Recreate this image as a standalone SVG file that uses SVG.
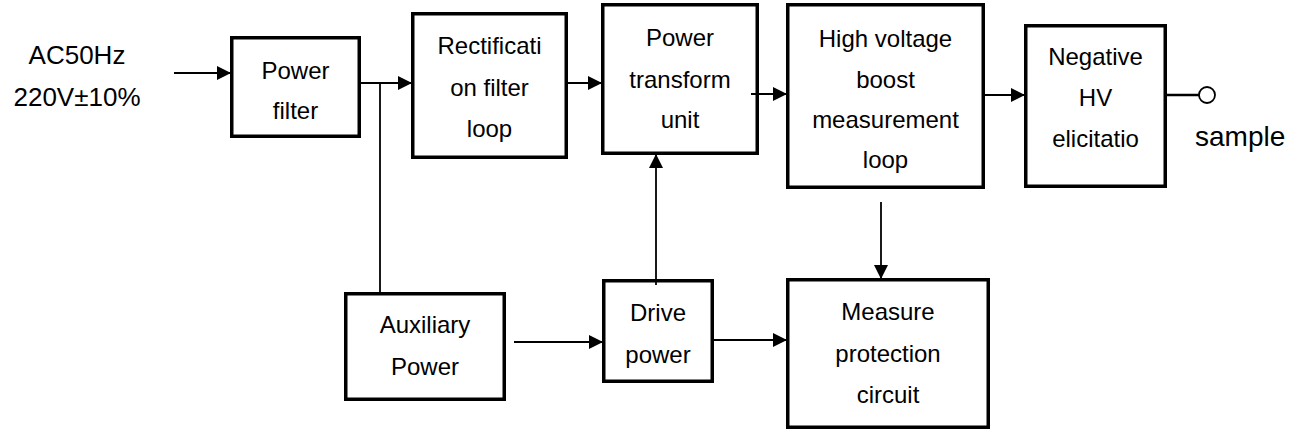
<svg xmlns="http://www.w3.org/2000/svg" width="1301" height="434" viewBox="0 0 1301 434">
  <style>
    .box { fill: #fff; stroke: #000; stroke-width: 3.5; }
    .t { font-family: "Liberation Sans", Arial, sans-serif; font-size: 24px; fill: #000; text-anchor: middle; }
    .lbl { font-family: "Liberation Sans", Arial, sans-serif; font-size: 26px; fill: #000; }
    .wire { fill: none; stroke: #000; stroke-width: 1.8; }
  </style>
  <defs>
    <marker id="arrow" markerUnits="userSpaceOnUse" markerWidth="14" markerHeight="14" refX="13" refY="7" orient="auto">
      <path d="M0,0 L14,7 L0,14 Z" fill="#000"/>
    </marker>
  </defs>

  <!-- input label -->
  <g id="input-label">
    <text class="lbl" x="77" y="64" text-anchor="middle">AC50Hz</text>
    <text class="lbl" x="77" y="106" text-anchor="middle">220V±10%</text>
  </g>

  <g id="power-filter">
    <rect class="box" x="231.75" y="37.75" width="127.5" height="98.5"/>
    <text class="t" x="295.5" y="79">Power</text>
    <text class="t" x="295.5" y="119">filter</text>
  </g>

  <g id="rectification">
    <rect class="box" x="412.75" y="13.75" width="153.5" height="143.5"/>
    <text class="t" x="489.5" y="54">Rectificati</text>
    <text class="t" x="489.5" y="96">on filter</text>
    <text class="t" x="489.5" y="137">loop</text>
  </g>

  <g id="power-transform">
    <rect class="box" x="602.75" y="4.75" width="154.5" height="148.5"/>
    <text class="t" x="680" y="46">Power</text>
    <text class="t" x="680" y="88">transform</text>
    <text class="t" x="680" y="128">unit</text>
  </g>

  <g id="hv-boost">
    <rect class="box" x="787.75" y="4.75" width="195.5" height="182.5"/>
    <text class="t" x="885.5" y="47">High voltage</text>
    <text class="t" x="885.5" y="88">boost</text>
    <text class="t" x="885.5" y="128">measurement</text>
    <text class="t" x="885.5" y="168">loop</text>
  </g>

  <g id="negative-hv">
    <rect class="box" x="1025.75" y="25.75" width="139.5" height="160.5"/>
    <text class="t" x="1095.5" y="65">Negative</text>
    <text class="t" x="1095.5" y="106">HV</text>
    <text class="t" x="1095.5" y="147">elicitatio</text>
  </g>

  <g id="sample">
    <circle cx="1207" cy="95" r="8" fill="none" stroke="#000" stroke-width="1.8"/>
    <text class="lbl" x="1195" y="146" style="font-size:28px">sample</text>
  </g>

  <g id="auxiliary-power">
    <rect class="box" x="345.75" y="293.75" width="158.5" height="105.5"/>
    <text class="t" x="425" y="333">Auxiliary</text>
    <text class="t" x="425" y="375">Power</text>
  </g>

  <g id="drive-power">
    <rect class="box" x="603.75" y="280.75" width="108.5" height="100.5"/>
    <text class="t" x="658" y="321">Drive</text>
    <text class="t" x="658" y="363">power</text>
  </g>

  <g id="measure-protection">
    <rect class="box" x="787.75" y="279.75" width="200.5" height="147.5"/>
    <text class="t" x="888" y="320">Measure</text>
    <text class="t" x="888" y="362">protection</text>
    <text class="t" x="888" y="403">circuit</text>
  </g>

  <g id="connectors">
    <line class="wire" x1="174" y1="73" x2="230" y2="73" marker-end="url(#arrow)"/>
    <line class="wire" x1="361" y1="83" x2="411" y2="83" marker-end="url(#arrow)"/>
    <line class="wire" x1="380" y1="83" x2="380" y2="292"/>
    <line class="wire" x1="565" y1="83" x2="601" y2="83" marker-end="url(#arrow)"/>
    <line class="wire" x1="751" y1="94" x2="786" y2="94" marker-end="url(#arrow)"/>
    <line class="wire" x1="983" y1="95" x2="1024" y2="95" marker-end="url(#arrow)"/>
    <line class="wire" x1="1166" y1="95" x2="1199" y2="95" style="stroke-width:2.5"/>
    <line class="wire" x1="656" y1="285" x2="656" y2="155" marker-end="url(#arrow)"/>
    <line class="wire" x1="881" y1="202" x2="881" y2="278" marker-end="url(#arrow)"/>
    <line class="wire" x1="514" y1="342" x2="602" y2="342" marker-end="url(#arrow)"/>
    <line class="wire" x1="714" y1="340" x2="786" y2="340" marker-end="url(#arrow)"/>
  </g>
</svg>
